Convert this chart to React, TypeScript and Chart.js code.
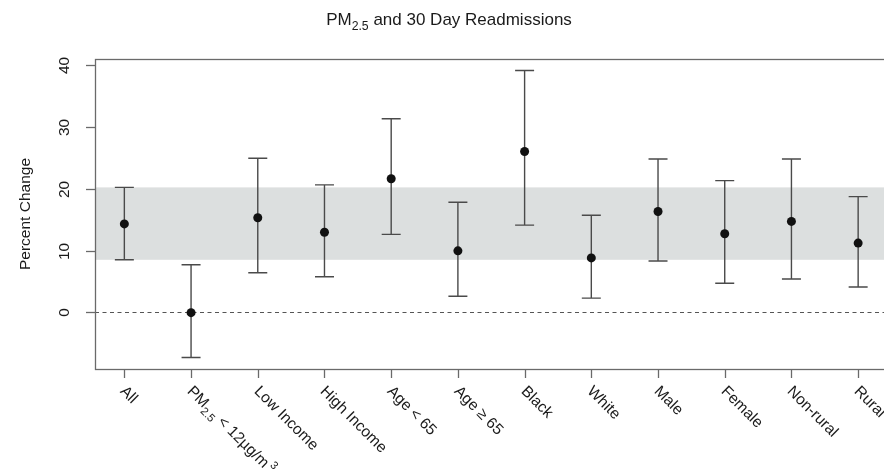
import { useEffect, useRef } from "react";
import { Chart, registerables } from "chart.js";

Chart.register(...registerables);

// ---- data ----
const categories = [
  "All",
  "PM_{2.5} < 12µg/m^{3}",
  "Low Income",
  "High Income",
  "Age < 65",
  "Age ≥ 65",
  "Black",
  "White",
  "Male",
  "Female",
  "Non-rural",
  "Rural",
];
const estimates = [14.3, -0.05, 15.3, 12.95, 21.6, 9.95, 26.0, 8.8, 16.3, 12.7, 14.7, 11.2];
const lowerCI = [8.5, -7.3, 6.4, 5.75, 12.6, 2.6, 14.1, 2.3, 8.3, 4.7, 5.4, 4.1];
const upperCI = [20.2, 7.7, 24.9, 20.6, 31.3, 17.8, 39.1, 15.7, 24.8, 21.3, 24.8, 18.7];
const yTicks = [0, 10, 20, 30, 40];
const bandRange = [8.5, 20.2];
const referenceValue = 0;
const titleText = "PM_{2.5} and 30 Day Readmissions";
const yAxisTitle = "Percent Change";

// ---- style ----
const FONT = '"Liberation Sans", Arial, Helvetica, sans-serif';
const TEXT = "#1a1a1a";
const AXIS = "#6a6a6a";
const BAR = "#4a4a4a";
const BAND = "#dcdfdf";
const CANVAS_W = 892;
const CANVAS_H = 472;

type Seg = { t: string; k: "n" | "sub" | "sup" };
function parseRich(s: string): Seg[] {
  const segs: Seg[] = [];
  const re = /([_^])\{([^}]*)\}/g;
  let last = 0;
  let m: RegExpExecArray | null;
  while ((m = re.exec(s))) {
    if (m.index > last) segs.push({ t: s.slice(last, m.index), k: "n" });
    segs.push({ t: m[2], k: m[1] === "_" ? "sub" : "sup" });
    last = re.lastIndex;
  }
  if (last < s.length) segs.push({ t: s.slice(last), k: "n" });
  return segs;
}

function drawRich(ctx: CanvasRenderingContext2D, s: string, x: number, y: number, size: number, align: "left" | "center") {
  const segs = parseRich(s);
  const fontFor = (k: string) => `${k === "n" ? size : size * 0.72}px ${FONT}`;
  ctx.textAlign = "left";
  ctx.textBaseline = "alphabetic";
  let total = 0;
  const widths: number[] = [];
  for (const seg of segs) {
    ctx.font = fontFor(seg.k);
    const w = ctx.measureText(seg.t).width + (seg.k === "sup" ? size * 0.15 : 0);
    widths.push(w);
    total += w;
  }
  let cx = align === "center" ? x - total / 2 : x;
  segs.forEach((seg, i) => {
    ctx.font = fontFor(seg.k);
    const dy = seg.k === "sub" ? size * 0.3 : seg.k === "sup" ? -size * 0.42 : 0;
    const dx = seg.k === "sup" ? size * 0.15 : 0;
    ctx.fillText(seg.t, cx + dx, y + dy);
    cx += widths[i];
  });
}

const customPlugin = {
  id: "forestDecor",
  beforeDatasetsDraw(chart: any) {
    const { ctx, chartArea: a, scales } = chart;
    const x = scales.x;
    const y = scales.y;
    ctx.save();
    // shaded band
    const yTop = y.getPixelForValue(bandRange[1]);
    const yBot = y.getPixelForValue(bandRange[0]);
    ctx.fillStyle = BAND;
    ctx.fillRect(a.left, yTop, a.right - a.left, yBot - yTop);
    // reference dashed line
    const y0 = Math.round(y.getPixelForValue(referenceValue)) + 0.5;
    ctx.strokeStyle = "#555";
    ctx.lineWidth = 1.2;
    ctx.setLineDash([4, 3.5]);
    ctx.beginPath();
    ctx.moveTo(a.left, y0);
    ctx.lineTo(a.right, y0);
    ctx.stroke();
    ctx.setLineDash([]);
    // error bars
    ctx.strokeStyle = BAR;
    ctx.lineWidth = 1.4;
    const cap = 9.5;
    categories.forEach((_, i) => {
      const px = x.getPixelForValue(i + 1);
      const pl = y.getPixelForValue(lowerCI[i]);
      const pu = y.getPixelForValue(upperCI[i]);
      ctx.beginPath();
      ctx.moveTo(px, pl);
      ctx.lineTo(px, pu);
      ctx.moveTo(px - cap, pu);
      ctx.lineTo(px + cap, pu);
      ctx.moveTo(px - cap, pl);
      ctx.lineTo(px + cap, pl);
      ctx.stroke();
    });
    ctx.restore();
  },
  afterDraw(chart: any) {
    const { ctx, chartArea: a, scales } = chart;
    const x = scales.x;
    const y = scales.y;
    ctx.save();
    // box
    ctx.strokeStyle = AXIS;
    ctx.lineWidth = 1.3;
    ctx.strokeRect(Math.round(a.left) + 0.5, Math.round(a.top) + 0.5, a.right - a.left, a.bottom - a.top);
    // y ticks
    ctx.fillStyle = TEXT;
    yTicks.forEach((v) => {
      const py = Math.round(y.getPixelForValue(v)) + 0.5;
      ctx.beginPath();
      ctx.moveTo(a.left - 9, py);
      ctx.lineTo(a.left, py);
      ctx.stroke();
      ctx.save();
      ctx.translate(a.left - 30, py);
      ctx.rotate(-Math.PI / 2);
      ctx.font = `15.5px ${FONT}`;
      ctx.textAlign = "center";
      ctx.textBaseline = "middle";
      ctx.fillText(String(v), 0, 0);
      ctx.restore();
    });
    // y axis title
    ctx.save();
    ctx.translate(26, (a.top + a.bottom) / 2);
    ctx.rotate(-Math.PI / 2);
    ctx.font = `15.5px ${FONT}`;
    ctx.textAlign = "center";
    ctx.textBaseline = "middle";
    ctx.fillText(yAxisTitle, 0, 0);
    ctx.restore();
    // x ticks + labels
    categories.forEach((label, i) => {
      const px = Math.round(x.getPixelForValue(i + 1)) + 0.5;
      ctx.beginPath();
      ctx.moveTo(px, a.bottom);
      ctx.lineTo(px, a.bottom + 9);
      ctx.stroke();
      ctx.save();
      ctx.translate(px + 3.5, a.bottom + 14.5);
      ctx.rotate(Math.PI / 4);
      ctx.fillStyle = TEXT;
      drawRich(ctx, label, 0, 12, 15.5, "left");
      ctx.restore();
    });
    // title
    ctx.fillStyle = TEXT;
    drawRich(ctx, titleText, 449, 24.5, 17, "center");
    ctx.restore();
  },
};

export default function App() {
  const ref = useRef<HTMLCanvasElement | null>(null);
  useEffect(() => {
    if (!ref.current) return;
    const chart = new Chart(ref.current, {
      type: "scatter",
      data: {
        datasets: [
          {
            data: estimates.map((v, i) => ({ x: i + 1, y: v })),
            backgroundColor: "#111",
            borderWidth: 0,
            pointRadius: 4.5,
          },
        ],
      },
      options: {
        responsive: false,
        animation: false,
        devicePixelRatio: 1,
        layout: { padding: { left: 95, top: 59, right: CANVAS_W - 888, bottom: CANVAS_H - 369 } },
        scales: {
          x: { type: "linear", display: false, min: 0.56, max: 12.44 },
          y: { type: "linear", display: false, min: -9.15, max: 40.95 },
        },
        plugins: { legend: { display: false }, tooltip: { enabled: false }, title: { display: false } },
      },
      plugins: [customPlugin],
    });
    return () => chart.destroy();
  }, []);
  return (
    <div style={{ position: "fixed", left: 0, top: 0, width: 884, height: 472, overflow: "hidden", background: "#fff" }}>
      <canvas ref={ref} width={CANVAS_W} height={CANVAS_H} style={{ display: "block", width: CANVAS_W, height: CANVAS_H }} />
    </div>
  );
}
